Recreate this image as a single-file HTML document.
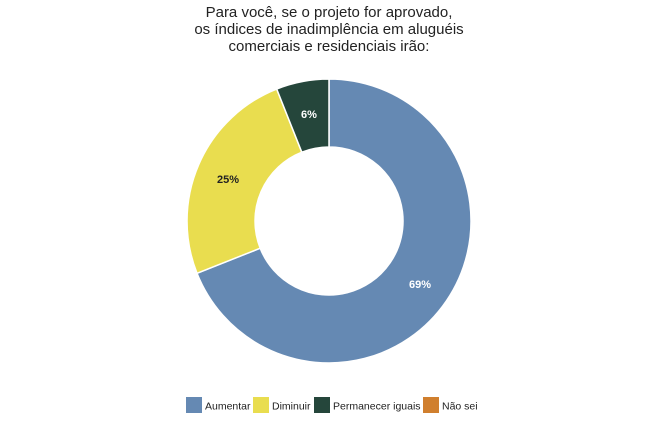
<!DOCTYPE html>
<html><head><meta charset="utf-8"><style>
body{margin:0;background:#fff;}
svg{display:block;font-family:"Liberation Sans",sans-serif;}
</style></head><body>
<svg width="654" height="439" viewBox="0 0 654 439">
<g font-size="15" fill="#222" text-anchor="middle">
<text x="329" y="17">Para você, se o projeto for aprovado,</text>
<text x="329" y="34">os índices de inadimplência em aluguéis</text>
<text x="329" y="51">comerciais e residenciais irão:</text>
</g>
<g stroke="#fff" stroke-width="1.5">
<path d="M329,79 A142,142 0 1 1 197.0,273.3 L260.2,248.2 A74,74 0 1 0 329,147 Z" fill="#6589b3"/>
<path d="M197.0,273.3 A142,142 0 0 1 276.7,89.0 L301.8,152.2 A74,74 0 0 0 260.2,248.2 Z" fill="#e9dd4f"/>
<path d="M276.7,89.0 A142,142 0 0 1 329,79 L329,147 A74,74 0 0 0 301.8,152.2 Z" fill="#25463b"/>
</g>
<g font-size="11" font-weight="bold" text-anchor="middle">
<text x="420" y="288" fill="#fff">69%</text>
<text x="228" y="183" fill="#222">25%</text>
<text x="309" y="118" fill="#fff">6%</text>
</g>
<g font-size="10.5" fill="#222">
<rect x="186" y="397" width="16" height="16" fill="#6589b3"/><text x="205" y="409.5">Aumentar</text>
<rect x="253" y="397" width="16" height="16" fill="#e9dd4f"/><text x="272" y="409.5">Diminuir</text>
<rect x="314" y="397" width="16" height="16" fill="#25463b"/><text x="333" y="409.5">Permanecer iguais</text>
<rect x="423" y="397" width="16" height="16" fill="#d07f2e"/><text x="442" y="409.5">Não sei</text>
</g>
</svg>
</body></html>
